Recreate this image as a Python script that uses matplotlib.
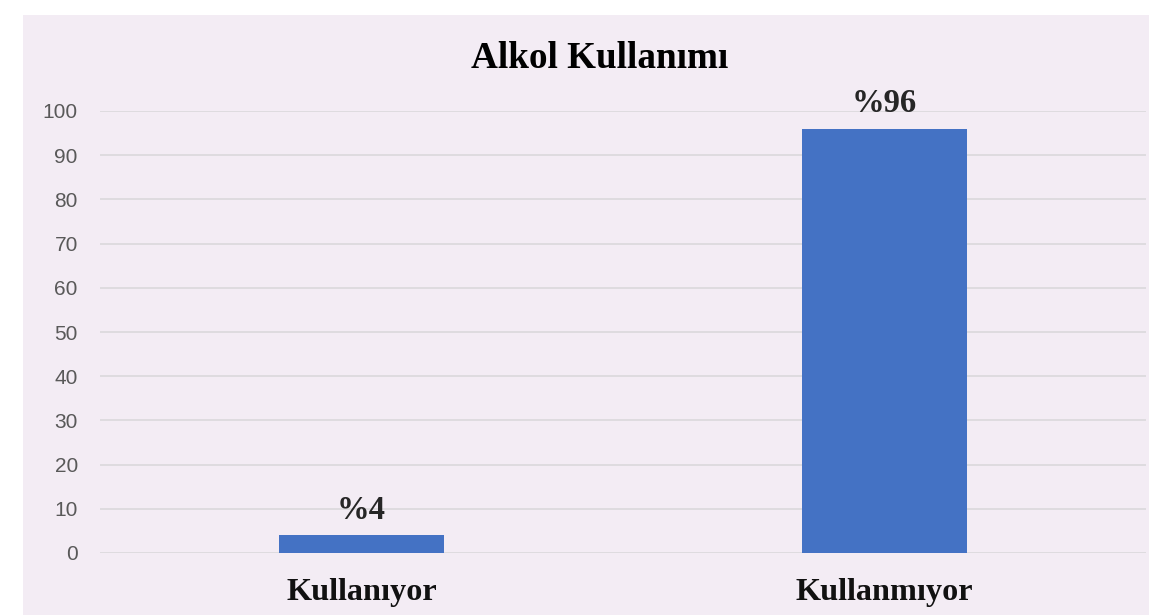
import matplotlib.pyplot as plt
from matplotlib.patches import Rectangle

# Alkol kullanımı dağılımı (%)
categories = ['Kullanıyor', 'Kullanmıyor']
values = [4, 96]
value_labels = ['%4', '%96']
yticks = [0, 10, 20, 30, 40, 50, 60, 70, 80, 90, 100]

bg = '#F3ECF4'
bar_color = '#4472C4'

fig = plt.figure(figsize=(11.49, 6.15), dpi=100, facecolor='white')
# lavender chart area with white margin at top/left
fig.patches.append(Rectangle((23 / 1149, 0), 1 - 23 / 1149, 1 - 15 / 615,
                             transform=fig.transFigure, facecolor=bg,
                             edgecolor='none', zorder=-10))

ax = fig.add_axes([100 / 1149, 62 / 615, 1046 / 1149, 442 / 615])
ax.set_facecolor('none')

x = range(len(categories))
ax.bar(x, values, width=0.314, color=bar_color, zorder=3)
ax.set_xlim(-0.5, 1.5)
ax.set_ylim(0, 100)

ax.set_yticks(yticks)
ax.grid(axis='y', color='#DCDADD', linewidth=1.3, zorder=0)
for s in ax.spines.values():
    s.set_visible(False)

ax.tick_params(axis='y', length=0, pad=16, labelsize=15, labelcolor='#595959')
for t in ax.get_yticklabels():
    t.set_fontfamily('Liberation Sans')

ax.set_xticks(list(x))
ax.set_xticklabels(categories, fontfamily='Liberation Serif', fontweight='bold',
                   fontsize=23.2, color='#111111')
ax.tick_params(axis='x', length=0, pad=18)

# data labels
for xi, v, lab in zip(x, values, value_labels):
    ax.annotate(lab, (xi, v), xytext=(0, 7), textcoords='offset points',
                ha='center', va='bottom', fontfamily='Liberation Serif',
                fontweight='bold', fontsize=23.5, color='#262626')

fig.text(600 / 1149, 1 - 68 / 615, 'Alkol Kullanımı', ha='center',
         va='baseline', fontfamily='Liberation Serif', fontweight='bold',
         fontsize=26.7, color='black')

fig.savefig('out.png', dpi=100, facecolor='white')
